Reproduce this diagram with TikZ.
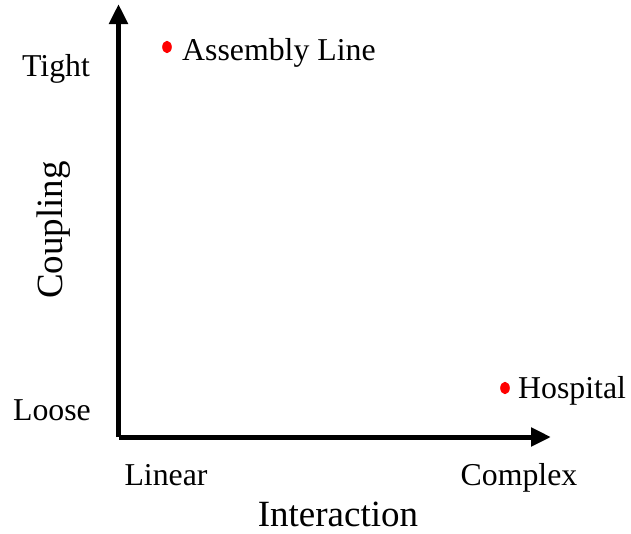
\documentclass[tikz,border=0pt]{standalone}
\usepackage{fontspec}
\setmainfont{Liberation Serif}
\usetikzlibrary{arrows.meta}
\begin{document}
\begin{tikzpicture}[x=1pt,y=-1pt,
  axis/.style={line width=5pt,-{Triangle[length=20pt,width=18pt]}},
  lbl/.style={inner sep=0pt,font=\fontsize{31.8}{32}\selectfont},
  big/.style={inner sep=0pt,font=\fontsize{37}{37}\selectfont}]
\useasboundingbox (0,0) rectangle (631,533);
\coordinate (o) at (118.5,437);
\coordinate (ytop) at (118.5,4);
\coordinate (xend) at (551,437);
\draw[axis] (o) -- (ytop);
\draw[axis] (o) -- (xend);
\fill[red] (167,47) ellipse (4.8pt and 6.2pt);
\fill[red] (505,388) ellipse (4.8pt and 6.2pt);
\node[lbl,anchor=base west] (al) at (182,60) {Assembly Line};
\node[lbl,anchor=base west] (hosp) at (518,398) {Hospital};
\node[lbl,anchor=base] (tight) at (56,76) {Tight};
\node[lbl,anchor=base] (loose) at (52,420) {Loose};
\node[lbl,anchor=base] (lin) at (166,485) {Linear};
\node[lbl,anchor=base] (cpx) at (519,485) {Complex};
\node[big,anchor=base] (inter) at (338,526) {Interaction};
\node[big,anchor=base,rotate=90] (coup) at (62,230) {Coupling};
\end{tikzpicture}
\end{document}
